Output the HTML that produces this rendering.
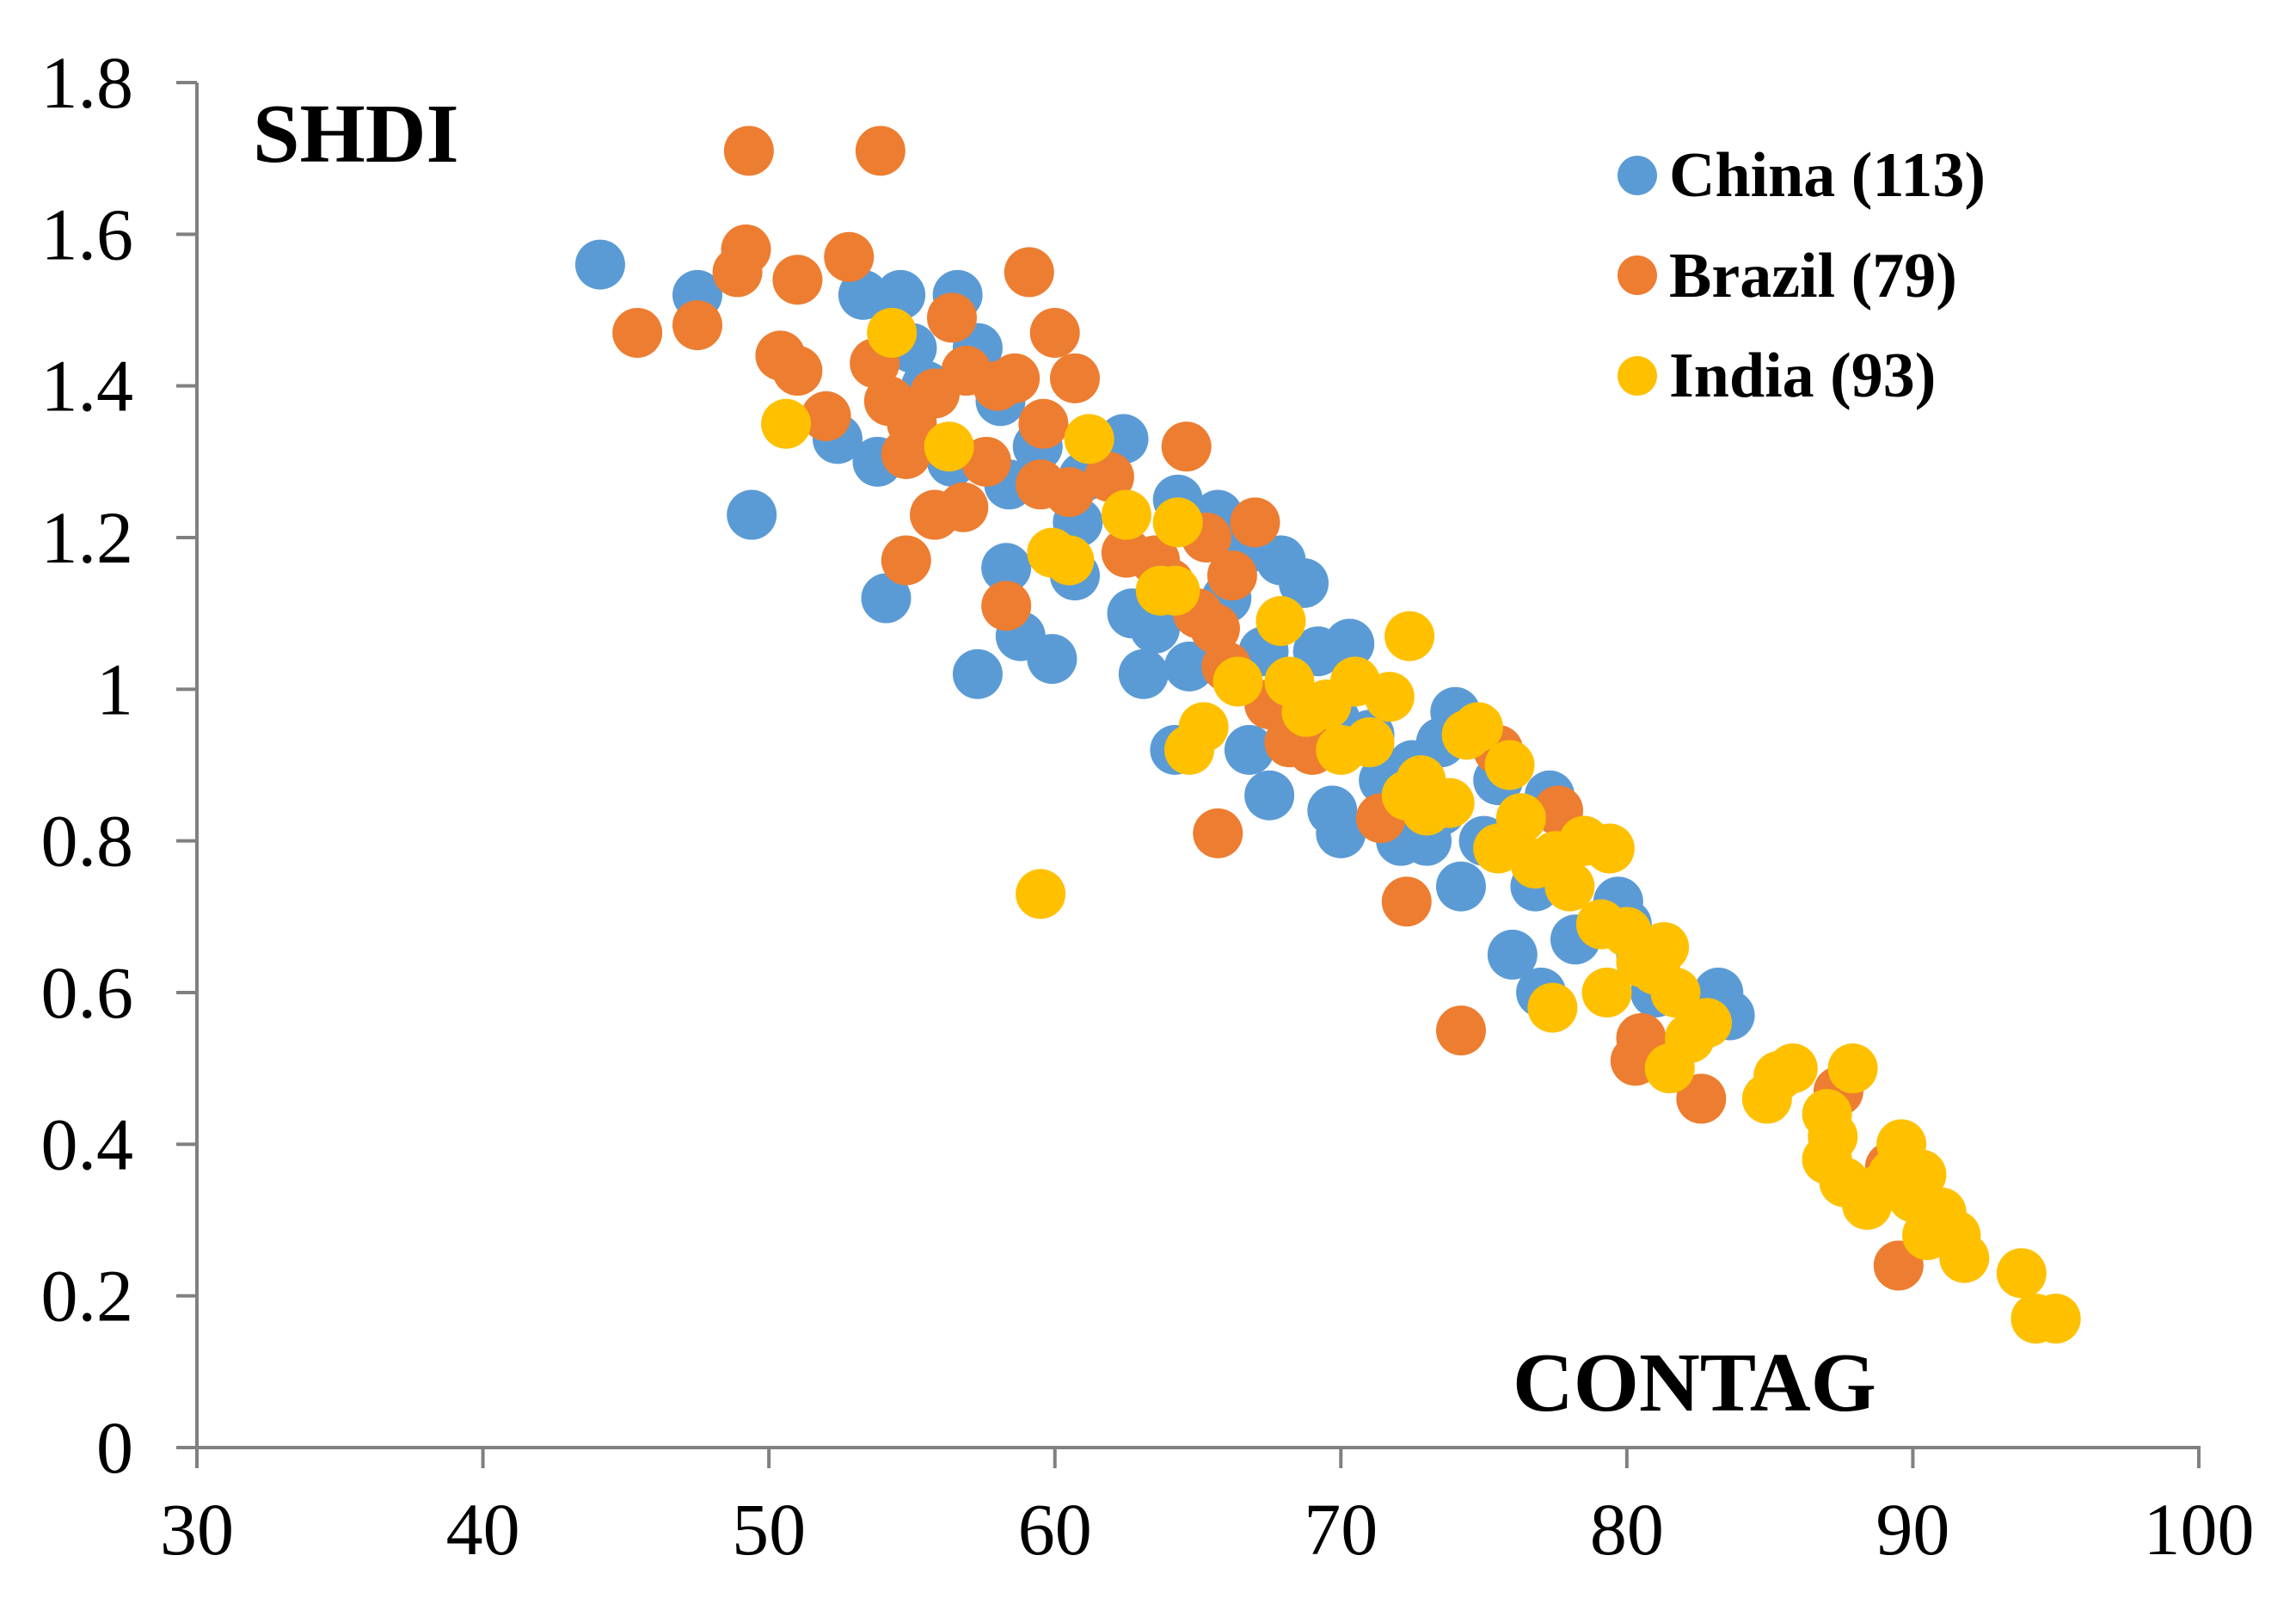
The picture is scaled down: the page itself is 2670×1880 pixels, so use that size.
<!DOCTYPE html>
<html><head><meta charset="utf-8"><style>
html,body{margin:0;padding:0;background:#fff;}
svg{display:block;font-family:"Liberation Serif",serif;}
</style></head><body>
<svg id="chart" width="2670" height="1880" viewBox="0 0 2670 1880" xmlns="http://www.w3.org/2000/svg">
<rect width="2670" height="1880" fill="#fff"/>
<g id="points"></g>
<g id="axes"></g>
<text x="294" y="188" font-size="98" font-weight="bold">SHDI</text>
<text x="1759" y="1640" font-size="98" font-weight="bold">CONTAG</text>
<g>
<g><circle cx="1904" cy="204" r="23" fill="#5B9BD5"/><text x="1941" y="228" font-size="74" font-weight="bold">China (113)</text></g>
<g><circle cx="1904" cy="320" r="23" fill="#ED7D31"/><text x="1941" y="345" font-size="74" font-weight="bold">Brazil (79)</text></g>
<g><circle cx="1904" cy="437" r="23" fill="#FFC000"/><text x="1941" y="461" font-size="74" font-weight="bold">India (93)</text></g>
</g>
</svg>
<script>
const xTicks = [30,40,50,60,70,80,90,100];
const yTicks = [0,0.2,0.4,0.6,0.8,1,1.2,1.4,1.6,1.8];
const yTickLabels = ["0","0.2","0.4","0.6","0.8","1","1.2","1.4","1.6","1.8"];
const chinaX = [44.1,47.5,49.4,53.3,54.6,56.6,52.4,53.8,54.1,55.5,56.4,57.3,58.1,58.4,58.3,58.8,57.3,59.9,60.7,60.8,59.4,62.4,62.7,63.1,63.5,64.2,64.3,64.7,65.7,66.5,66.8,67.3,67.5,67.9,68.7,69.2,69.7,70.0,70.3,69.8,71.5,72.1,72.5,73.0,73.5,74.0,74.2,75.0,76.0,77.0,76.8,77.3,78.2,79.7,80.5,81.0,82.5,83.2,83.6,75.5,71.0,66.0,61.0,55.0,68.0,73.5,80.0];
const chinaY = [1.56,1.52,1.23,1.52,1.52,1.52,1.33,1.30,1.12,1.40,1.30,1.45,1.38,1.27,1.16,1.07,1.02,1.04,1.15,1.22,1.32,1.33,1.10,1.02,1.08,0.92,1.25,1.03,1.23,1.18,0.92,1.05,0.86,1.17,1.14,1.05,0.84,0.81,1.06,0.96,0.88,0.80,0.90,0.80,0.93,0.97,0.74,0.80,0.65,0.60,0.74,0.86,0.67,0.72,0.65,0.60,0.58,0.60,0.57,0.88,0.94,1.12,1.28,1.45,0.98,0.84,0.69];
const brazilX = [49.3,53.9,49.2,52.8,48.9,51.0,45.4,47.5,50.4,51.0,52.0,53.7,54.2,55.0,54.8,55.8,56.4,56.9,57.6,58.0,58.6,59.1,59.6,60.0,60.7,59.5,60.5,55.8,56.8,54.8,58.3,61.9,62.5,63.5,64.6,65.3,65.6,66.2,67.0,65.7,66.0,67.5,68.2,69.0,71.4,72.3,74.2,75.5,77.6,78.5,80.3,80.5,82.6,87.4,89.5,89.2,65.0,64.0];
const brazilY = [1.71,1.71,1.58,1.57,1.55,1.54,1.47,1.48,1.44,1.42,1.36,1.43,1.38,1.35,1.31,1.39,1.49,1.42,1.30,1.40,1.41,1.55,1.35,1.47,1.41,1.27,1.26,1.23,1.24,1.17,1.11,1.28,1.18,1.17,1.32,1.20,1.08,1.15,1.22,0.81,1.03,0.98,0.93,0.92,0.83,0.72,0.55,0.92,0.84,0.80,0.51,0.54,0.46,0.47,0.24,0.37,1.10,1.14];
const indiaX = [50.6,54.3,56.3,61.2,59.5,59.9,60.5,62.5,63.7,64.2,64.3,64.7,65.2,66.4,67.9,68.2,68.8,69.5,70.0,70.5,71.0,71.7,72.4,72.3,72.8,73.0,73.8,74.4,74.8,75.5,75.9,76.3,76.8,77.4,77.5,78.0,78.5,79.1,79.4,79.3,80.0,80.5,81.0,81.3,81.7,81.5,82.2,82.8,84.9,85.3,85.8,87.9,87.0,87.2,87.0,87.6,88.4,89.3,89.6,90.0,90.3,90.5,91.0,91.5,91.8,93.8,94.3,95.0,88.8];
const indiaY = [1.35,1.47,1.32,1.33,0.73,1.18,1.17,1.23,1.13,1.13,1.22,0.92,0.95,1.01,1.09,1.01,0.97,0.98,0.92,1.01,0.93,0.99,1.07,0.86,0.88,0.84,0.85,0.94,0.95,0.79,0.90,0.83,0.77,0.58,0.78,0.74,0.80,0.69,0.79,0.60,0.68,0.64,0.63,0.66,0.60,0.50,0.54,0.56,0.46,0.49,0.50,0.50,0.44,0.41,0.38,0.35,0.32,0.36,0.40,0.33,0.36,0.28,0.31,0.28,0.25,0.23,0.17,0.17,0.34];

const NS = "http://www.w3.org/2000/svg";
const X0 = 229, X1 = 2557, Y0 = 1683, Y1 = 96;
function sx(v){ return X0 + (v - 30) / 70 * (X1 - X0); }
function sy(v){ return Y0 - v / 1.8 * (Y0 - Y1); }
function mk(tag, attrs){ const e = document.createElementNS(NS, tag); for (const k in attrs) e.setAttribute(k, attrs[k]); return e; }

const pts = document.getElementById('points');
function series(xs, ys, color, name){
  const g = mk('g', {});
  
  
  for (let i = 0; i < xs.length; i++){
    const c = mk('circle', {cx: sx(xs[i]), cy: sy(ys[i]), r: 29, fill: color});
    
    
    g.appendChild(c);
  }
  pts.appendChild(g);
}
series(chinaX, chinaY, '#5B9BD5', 'china');
series(brazilX, brazilY, '#ED7D31', 'brazil');
series(indiaX, indiaY, '#FFC000', 'india');

const ax = document.getElementById('axes');
const yl = mk('line', {x1: X0, y1: Y1, x2: X0, y2: Y0 + 2, stroke: '#808080', 'stroke-width': 4});


ax.appendChild(yl);
const xl = mk('line', {x1: X0 - 2, y1: Y0, x2: X1 + 2, y2: Y0, stroke: '#808080', 'stroke-width': 4});


ax.appendChild(xl);
xTicks.forEach(function(t){
  const x = sx(t);
  const l = mk('line', {x1: x, y1: Y0, x2: x, y2: Y0 + 24, stroke: '#808080', 'stroke-width': 4});
  
  
  ax.appendChild(l);
  const tx = mk('text', {x: x, y: Y0 + 124, 'font-size': 86, 'text-anchor': 'middle'});
  
  
  tx.textContent = String(t);
  ax.appendChild(tx);
});
yTicks.forEach(function(t, i){
  const y = sy(t);
  const l = mk('line', {x1: X0 - 24, y1: y, x2: X0, y2: y, stroke: '#808080', 'stroke-width': 4});
  
  
  ax.appendChild(l);
  const tx = mk('text', {x: 155, y: y + 29, 'font-size': 86, 'text-anchor': 'end'});
  
  
  tx.textContent = yTickLabels[i];
  ax.appendChild(tx);
});
</script>
</body></html>
